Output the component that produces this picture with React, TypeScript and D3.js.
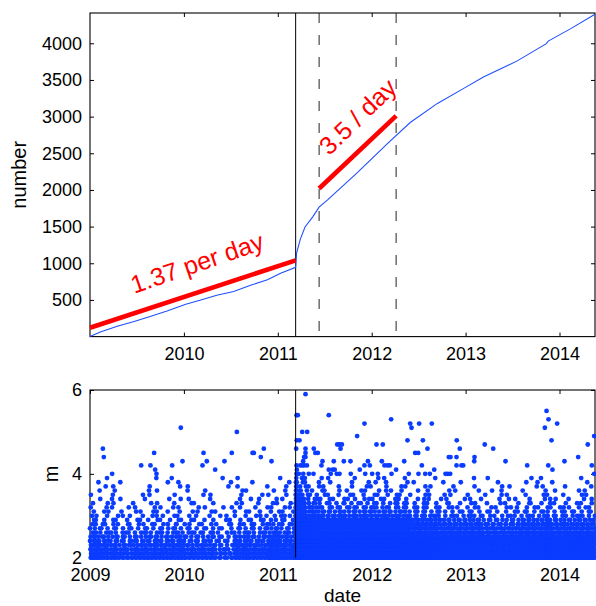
import React, { useEffect, useRef } from 'react';
import * as d3 from 'd3';

// cumulative number of events
const cumYears = [2009.0, 2009.11, 2009.29, 2009.47, 2009.64, 2009.82, 2010.02, 2010.18, 2010.35, 2010.53, 2010.71, 2010.89, 2011.03, 2011.19, 2011.2, 2011.24, 2011.29, 2011.37, 2011.44, 2011.53, 2011.76, 2011.85, 2012.17, 2012.41, 2012.7, 2012.98, 2013.19, 2013.55, 2013.86, 2013.88, 2014.12, 2014.378];
const cumCounts = [0, 62, 140, 205, 275, 350, 440, 500, 565, 615, 700, 775, 865, 944, 1140, 1330, 1495, 1630, 1765, 1865, 2135, 2240, 2634, 2920, 3180, 3385, 3540, 3760, 3995, 4030, 4200, 4395];

const quakeYear = 2011.19;
const rateWindow = [2011.44, 2012.26];
const preRateLine: [number, number][] = [[2009.0, 120], [2011.19, 1040]];
const postRateLine: [number, number][] = [[2011.44, 2020], [2012.26, 3010]];
const rateTexts = ['1.37 per day', '3.5 / day'];
const rateTextAt: [number, number][] = [[2010.14, 1005], [2011.85, 3000]];

// magnitude rows of the dense band (0.1 steps) and estimated event counts per row
const magLevels = [2.0, 2.1, 2.2, 2.3, 2.4, 2.5, 2.6, 2.7, 2.8, 2.9, 3.0, 3.1, 3.2, 3.3, 3.4, 3.5, 3.6, 3.7, 3.8, 3.9];
const preQuakeCounts = [110, 100, 90, 80, 70, 62, 52, 44, 36, 30, 26, 22, 19, 16, 13, 11, 10, 9, 7, 6];
const postQuakeCounts = [420, 400, 380, 350, 320, 290, 250, 210, 170, 135, 100, 80, 65, 52, 42, 34, 28, 24, 19, 15];

// individual events with m >= 4.0 : [year, m]
const bigEvents: [number, number][] = [
    [2009.137, 4.6], [2009.147, 4.4], [2009.236, 4.0], [2009.545, 4.2], [2009.644, 4.2], [2009.683, 4.5], [2009.694, 4.1],
    [2009.708, 4.0], [2009.875, 4.2], [2009.967, 5.1], [2009.985, 4.3], [2010.198, 4.2], [2010.209, 4.5], [2010.244, 4.3],
    [2010.333, 4.1], [2010.432, 4.3], [2010.51, 4.5], [2010.564, 5.0], [2010.731, 4.5], [2010.745, 4.5], [2010.819, 4.4],
    [2010.851, 4.6], [2010.933, 4.3],
    [2011.196, 4.6], [2011.2, 5.4], [2011.202, 4.8], [2011.2, 4.2], [2011.203, 4.1], [2011.213, 5.4], [2011.231, 4.8],
    [2011.199, 4.0], [2011.224, 4.0], [2011.26, 5.0], [2011.24, 4.2], [2011.26, 4.2], [2011.271, 4.0], [2011.27, 4.3],
    [2011.28, 4.4], [2011.28, 4.2], [2011.295, 5.9], [2011.295, 4.6], [2011.295, 4.5], [2011.295, 4.4], [2011.31, 4.2],
    [2011.313, 5.0], [2011.33, 4.0], [2011.38, 4.0], [2011.383, 4.6], [2011.4, 4.5], [2011.426, 4.5], [2011.465, 4.2],
    [2011.476, 4.3], [2011.543, 5.4], [2011.543, 4.1], [2011.564, 4.0], [2011.585, 4.1], [2011.596, 4.3], [2011.606, 4.1],
    [2011.628, 4.0], [2011.633, 4.7], [2011.657, 4.7], [2011.657, 4.0], [2011.668, 4.6], [2011.682, 4.7], [2011.703, 4.3],
    [2011.774, 4.3], [2011.777, 4.0], [2011.845, 4.9], [2011.873, 4.1], [2011.923, 5.2], [2011.923, 4.2], [2011.931, 4.0],
    [2011.96, 4.3], [2011.98, 4.2], [2012.005, 4.0], [2012.051, 4.7], [2012.065, 4.0], [2012.108, 4.3], [2012.118, 4.7],
    [2012.136, 4.2], [2012.168, 4.2], [2012.193, 4.2], [2012.207, 5.3], [2012.211, 4.0], [2012.26, 4.1], [2012.346, 4.3],
    [2012.381, 4.8], [2012.395, 4.0], [2012.41, 5.2], [2012.424, 5.1], [2012.463, 4.5], [2012.495, 4.5], [2012.498, 4.0],
    [2012.505, 5.2], [2012.534, 4.2], [2012.545, 4.8], [2012.57, 4.0], [2012.594, 4.6], [2012.619, 4.0], [2012.64, 5.2],
    [2012.666, 4.1], [2012.786, 4.0], [2012.81, 4.0], [2012.821, 4.4], [2012.836, 4.0], [2012.839, 4.4], [2012.903, 4.4],
    [2012.903, 4.2], [2012.906, 4.8], [2012.938, 4.6], [2012.956, 4.2], [2012.974, 4.2], [2013.092, 4.3], [2013.095, 4.4],
    [2013.204, 4.7], [2013.294, 4.6], [2013.425, 4.3], [2013.656, 4.2], [2013.844, 5.1], [2013.862, 5.5], [2013.88, 4.2],
    [2013.883, 5.3], [2013.915, 4.8], [2013.925, 4.1], [2013.975, 5.2], [2014.053, 4.3], [2014.199, 4.4], [2014.301, 4.7],
    [2014.344, 4.2], [2014.369, 4.9], [2014.369, 4.0],
];

const topYearTicks = [2010, 2011, 2012, 2013, 2014];
const bottomYearTicks = [2009, 2010, 2011, 2012, 2013, 2014];
const countTicks = [500, 1000, 1500, 2000, 2500, 3000, 3500, 4000];
const magTicks = [2, 4, 6];

const FONT = '"Liberation Sans", Arial, Helvetica, sans-serif';
const BLUE_LINE = '#1f4fff';
const BLUE_DOT = '#0a3cff';

// van der Corput fraction, used to spread a row's events unevenly inside their slots
const vdc = (k: number, base: number) => {
    let f = 1;
    let r = 0;
    let n = k + 1;
    while (n > 0) {
        f /= base;
        r += f * (n % base);
        n = Math.floor(n / base);
    }
    return r;
};

const App: React.FC = () => {
    const ref = useRef<SVGSVGElement>(null);

    useEffect(() => {
        if (!ref.current) return;
        const svg = d3.select(ref.current);
        svg.selectAll('*').remove();

        const x = d3.scaleLinear().domain([2009, 2014.378]).range([90, 595]);
        const yTop = d3.scaleLinear().domain([0, 4413]).range([336.6, 13]);
        const yBot = d3.scaleLinear().domain([2, 6]).range([557.7, 390]);

        const styleAxis = (g: d3.Selection<SVGGElement, unknown, null, undefined>, labels: boolean) => {
            g.select('.domain').remove();
            g.selectAll('line').attr('stroke', '#000');
            g.selectAll('text').attr('font-size', 18).attr('font-family', FONT).attr('fill', '#000');
            if (!labels) g.selectAll('text').remove();
        };

        const panel = (yScale: d3.ScaleLinear<number, number>, xTicks: number[], yTicks: number[]) => {
            const [y0, y1] = yScale.range();
            const bottom = svg.append('g').attr('transform', `translate(0,${y0})`)
                .call(d3.axisBottom(x).tickValues(xTicks).tickFormat(d3.format('d')).tickSize(-4).tickPadding(11));
            styleAxis(bottom, true);
            const top = svg.append('g').attr('transform', `translate(0,${y1})`)
                .call(d3.axisTop(x).tickValues(xTicks).tickSize(-4));
            styleAxis(top, false);
            const left = svg.append('g').attr('transform', `translate(${x.range()[0]},0)`)
                .call(d3.axisLeft(yScale).tickValues(yTicks).tickFormat(d3.format('d')).tickSize(-4).tickPadding(8));
            styleAxis(left, true);
            const right = svg.append('g').attr('transform', `translate(${x.range()[1]},0)`)
                .call(d3.axisRight(yScale).tickValues(yTicks).tickSize(-4));
            styleAxis(right, false);
            svg.append('rect')
                .attr('x', x.range()[0]).attr('y', y1)
                .attr('width', x.range()[1] - x.range()[0]).attr('height', y0 - y1)
                .attr('fill', 'none').attr('stroke', '#000').attr('stroke-width', 1.1);
        };

        // ---------- upper panel: cumulative number ----------
        panel(yTop, topYearTicks, countTicks);

        svg.append('line')
            .attr('x1', x(quakeYear)).attr('x2', x(quakeYear))
            .attr('y1', yTop.range()[1]).attr('y2', yTop.range()[0])
            .attr('stroke', '#000').attr('stroke-width', 1);

        rateWindow.forEach((yr) => {
            svg.append('line')
                .attr('x1', x(yr)).attr('x2', x(yr))
                .attr('y1', yTop.range()[1]).attr('y2', yTop.range()[0])
                .attr('stroke', '#222').attr('stroke-width', 1)
                .attr('stroke-dasharray', '10,12');
        });

        const cumLine = d3.line<number>()
            .x((_, i) => x(cumYears[i]))
            .y((d) => yTop(d));
        svg.append('path')
            .attr('d', cumLine(cumCounts))
            .attr('fill', 'none').attr('stroke', BLUE_LINE).attr('stroke-width', 1.1);

        const rateLine = d3.line<[number, number]>().x((d) => x(d[0])).y((d) => yTop(d[1]));
        [preRateLine, postRateLine].forEach((seg) => {
            svg.append('path')
                .attr('d', rateLine(seg))
                .attr('fill', 'none').attr('stroke', '#ff0000').attr('stroke-width', 4.6);
        });

        const angles = [-19, -44];
        rateTexts.forEach((t, i) => {
            const px = x(rateTextAt[i][0]);
            const py = yTop(rateTextAt[i][1]);
            svg.append('text')
                .attr('transform', `translate(${px},${py}) rotate(${angles[i]})`)
                .attr('text-anchor', 'middle').attr('dy', '0.35em')
                .attr('font-size', 25).attr('font-family', FONT).attr('fill', '#ff0000')
                .text(t);
        });

        svg.append('text')
            .attr('transform', `translate(26,${(yTop.range()[0] + yTop.range()[1]) / 2}) rotate(-90)`)
            .attr('text-anchor', 'middle')
            .attr('font-size', 20).attr('font-family', FONT)
            .text('number');

        // ---------- lower panel: magnitudes ----------
        panel(yBot, bottomYearTicks, magTicks);

        const toYear = d3.scaleLinear().domain(cumCounts).range(cumYears);
        const nQuake = cumCounts[cumYears.indexOf(quakeYear)];
        const nEnd = cumCounts[cumCounts.length - 1];
        const dots: [number, number][] = [];
        magLevels.forEach((m, li) => {
            const base = li % 2 === 0 ? 2 : 3;
            const shift = (li * 0.381966) % 1;
            [[preQuakeCounts[li], 0, nQuake], [postQuakeCounts[li], nQuake, nEnd]].forEach(([n, c0, c1]) => {
                for (let k = 0; k < n; k++) {
                    const u = (vdc(k, base) + shift) % 1;
                    dots.push([toYear(c0 + ((k + u) * (c1 - c0)) / n), m]);
                }
            });
        });
        bigEvents.forEach((e) => dots.push(e));

        svg.append('g')
            .selectAll('circle')
            .data(dots)
            .enter()
            .append('circle')
            .attr('cx', (d) => x(d[0]))
            .attr('cy', (d) => yBot(d[1]))
            .attr('r', 2.4)
            .attr('fill', BLUE_DOT);

        svg.append('line')
            .attr('x1', x(quakeYear)).attr('x2', x(quakeYear))
            .attr('y1', yBot.range()[1]).attr('y2', yBot.range()[0])
            .attr('stroke', '#000').attr('stroke-width', 1);

        svg.append('text')
            .attr('transform', `translate(58,${(yBot.range()[0] + yBot.range()[1]) / 2}) rotate(-90)`)
            .attr('text-anchor', 'middle')
            .attr('font-size', 20).attr('font-family', FONT)
            .text('m');

        svg.append('text')
            .attr('x', (x.range()[0] + x.range()[1]) / 2).attr('y', 602)
            .attr('text-anchor', 'middle')
            .attr('font-size', 19).attr('font-family', FONT)
            .text('date');
    }, []);

    return (
        <svg
            ref={ref}
            width={596}
            height={606}
            style={{ position: 'absolute', left: 0, top: 0, background: '#fff' }}
        />
    );
};

export default App;
